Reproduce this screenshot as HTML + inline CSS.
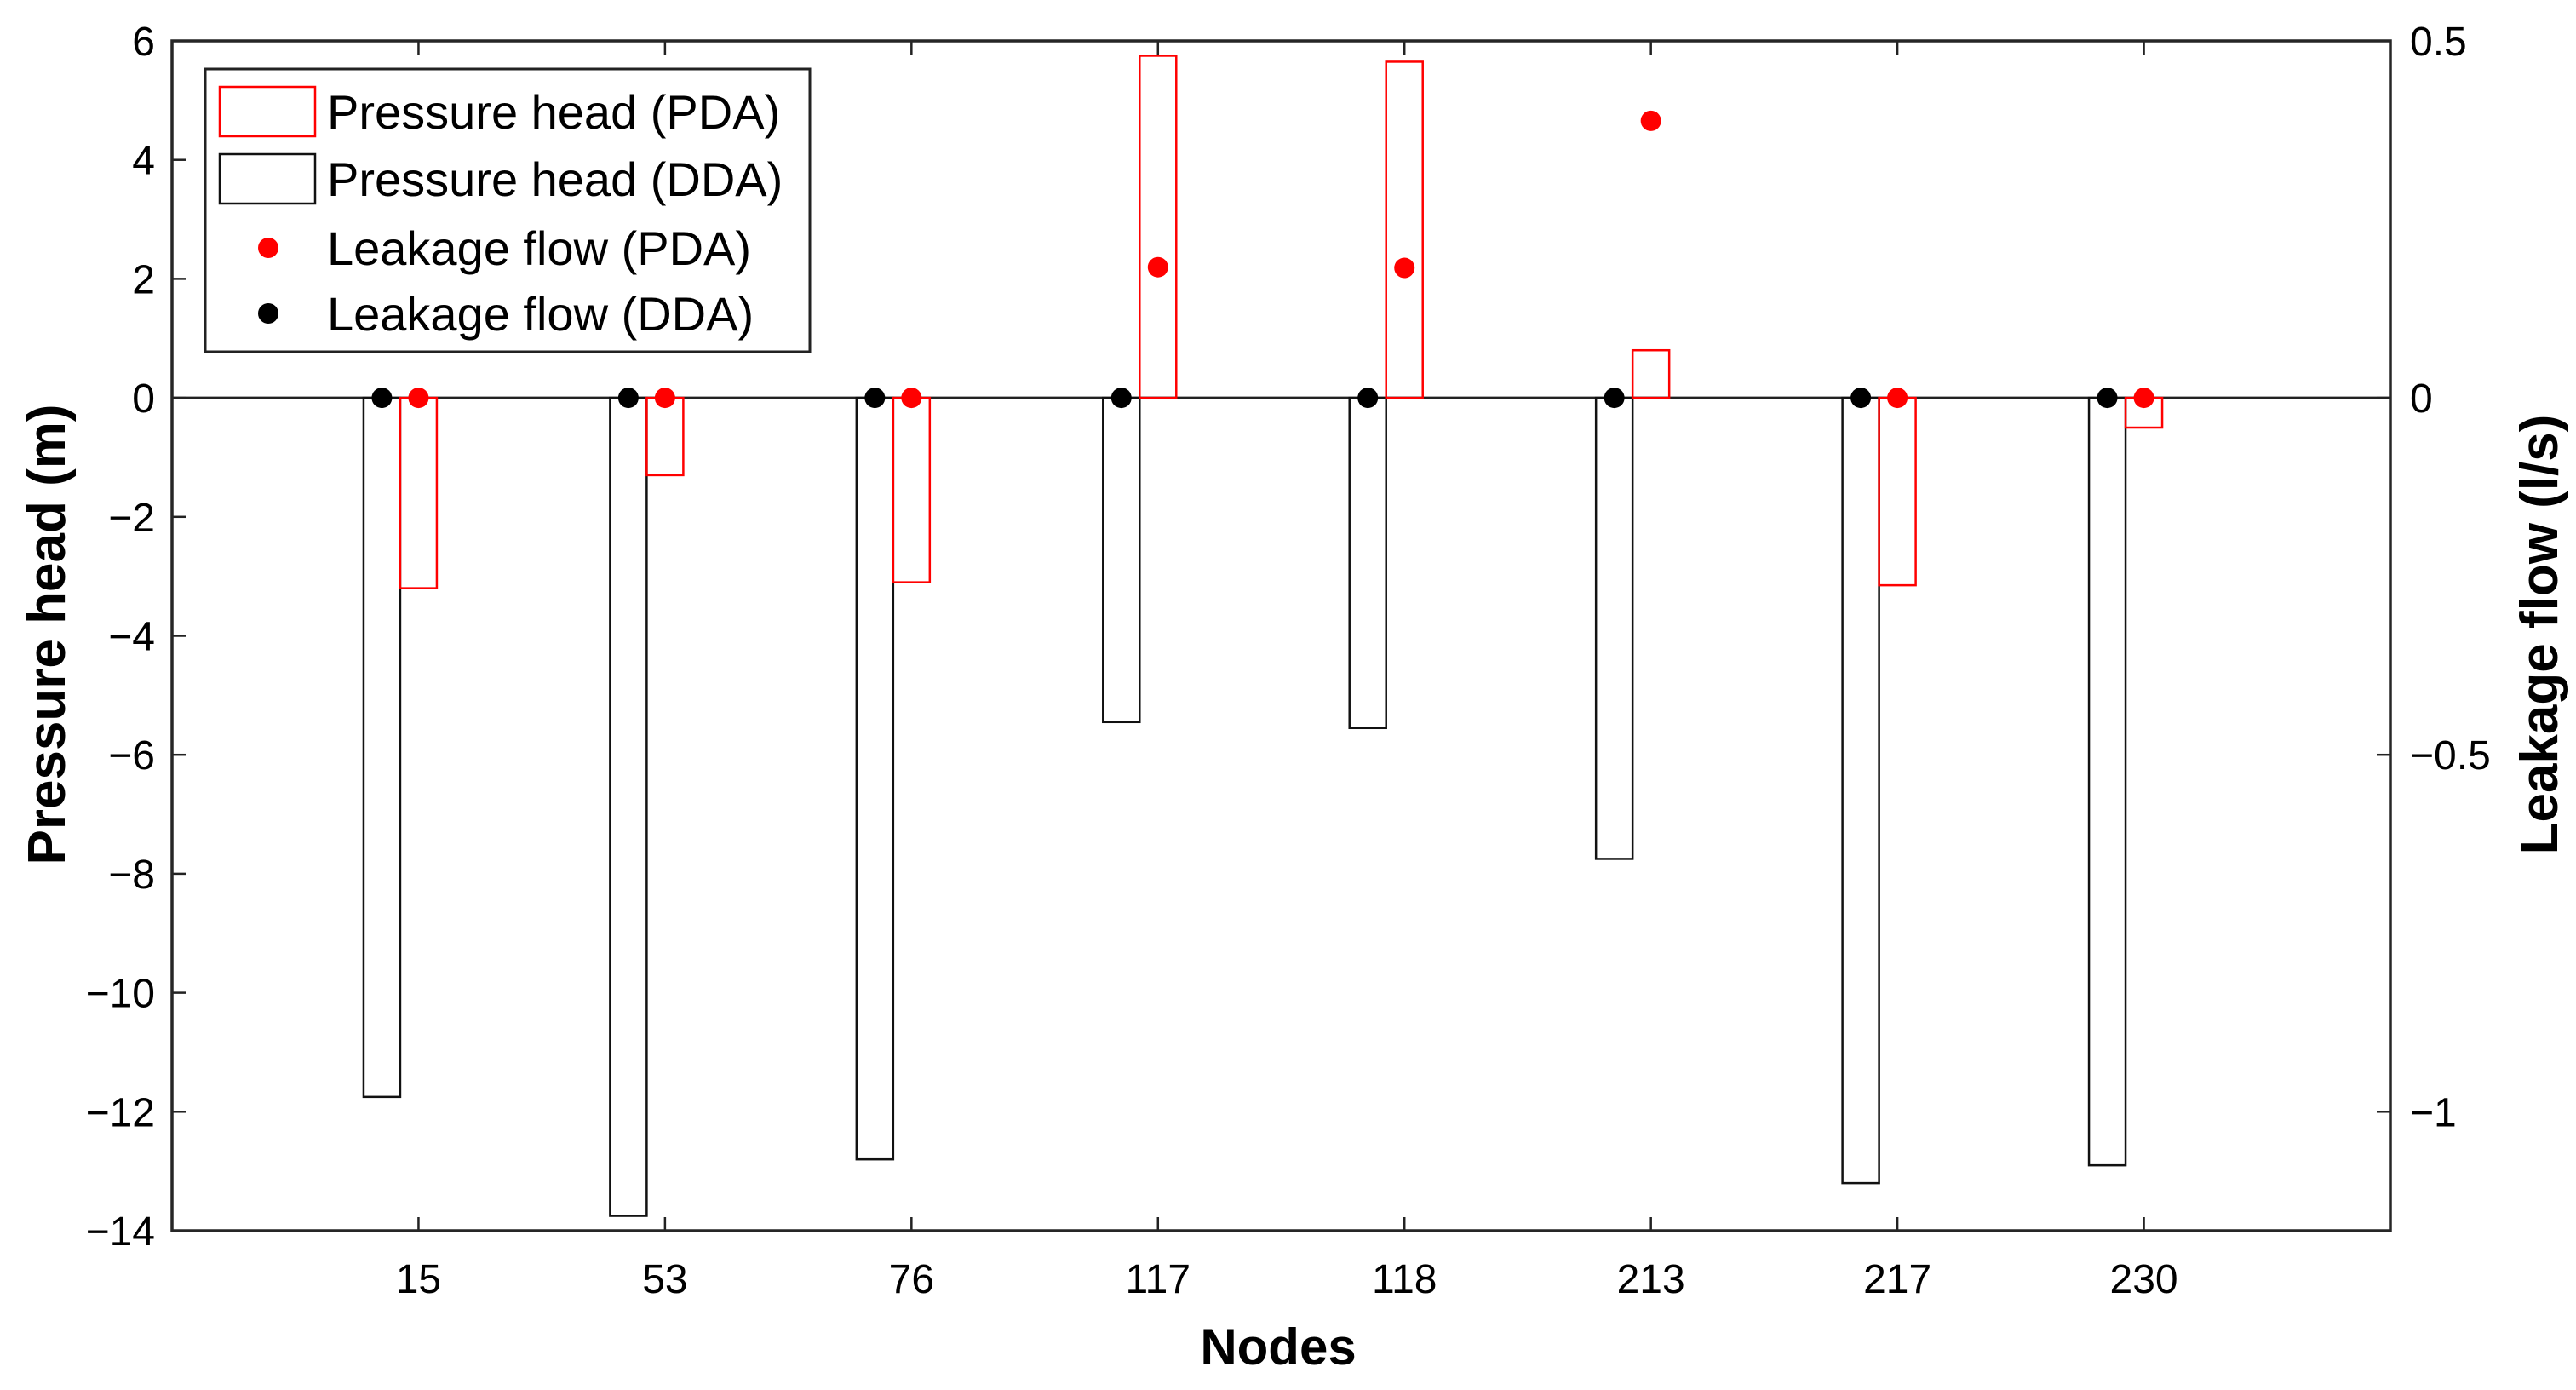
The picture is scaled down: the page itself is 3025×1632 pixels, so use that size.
<!DOCTYPE html>
<html><head><meta charset="utf-8"><style>
html,body{margin:0;padding:0;background:#fff;}
svg{display:block;font-family:"Liberation Sans",Arial,sans-serif;}
</style></head><body>
<svg id="chart" width="3025" height="1632" viewBox="0 0 3025 1632" xmlns="http://www.w3.org/2000/svg"></svg>
<script>
const nodes = ["15","53","76","117","118","213","217","230"];
const pressurePDA = [-3.2,-1.3,-3.1,5.75,5.65,0.8,-3.15,-0.5];
const pressureDDA = [-11.75,-13.75,-12.8,-5.45,-5.55,-7.75,-13.2,-12.9];
const leakPDA = [0,0,0,0.183,0.182,0.388,0,0];
const leakDDA = [0,0,0,0,0,0,0,0];
const leftTicks = [6,4,2,0,-2,-4,-6,-8,-10,-12,-14];
const rightTicks = [0.5,0,-0.5,-1];

const L=202,R=2807,T=48,B=1445;
const yL=v=>T+(6-v)/20*(B-T);
const yR=v=>T+(0.5-v)/(0.5+7/6)*(B-T);
const xC=i=>L+(i+1)*(R-L)/9;
const bw=43;
const NS="http://www.w3.org/2000/svg";
const svg=document.getElementById('chart');
function mk(tag,attrs,parent){const e=document.createElementNS(NS,tag);for(const k in attrs)e.setAttribute(k,attrs[k]);(parent||svg).appendChild(e);return e;}

let zl=mk('line',{x1:L,x2:R,y1:yL(0),y2:yL(0),stroke:'#222','stroke-width':3});



nodes.forEach((n,i)=>{
  const cx=xC(i);
  const d=pressureDDA[i];
  let r1=mk('rect',{x:cx-bw*1.5,y:Math.min(yL(0),yL(d)),width:bw,height:Math.abs(yL(d)-yL(0)),fill:'none',stroke:'#111','stroke-width':2.5});
  
  
  const p=pressurePDA[i];
  let r2=mk('rect',{x:cx-bw/2,y:Math.min(yL(0),yL(p)),width:bw,height:Math.abs(yL(p)-yL(0)),fill:'none',stroke:'#ff0000','stroke-width':2.5});
  
  
  let c1=mk('circle',{cx:cx-bw,cy:yR(leakDDA[i]),r:12,fill:'#000'});
  
  
  let c2=mk('circle',{cx:cx,cy:yR(leakPDA[i]),r:12,fill:'#ff0000'});
  
  
  mk('line',{x1:cx,x2:cx,y1:B,y2:B-16,stroke:'#222','stroke-width':2.5});
  mk('line',{x1:cx,x2:cx,y1:T,y2:T+16,stroke:'#222','stroke-width':2.5});
  let t=mk('text',{x:cx,y:1518,'text-anchor':'middle','font-size':48,fill:'#000'});
  t.textContent=n;
  
  
});

leftTicks.forEach(v=>{
  const y=yL(v);
  mk('line',{x1:L,x2:L+16,y1:y,y2:y,stroke:'#222','stroke-width':2.5});
  let t=mk('text',{x:182,y:y+17,'text-anchor':'end','font-size':48,fill:'#000'});
  t.textContent=v<0?'\u2212'+(-v):String(v);
  
  
});
rightTicks.forEach(v=>{
  const y=yR(v);
  mk('line',{x1:R,x2:R-16,y1:y,y2:y,stroke:'#222','stroke-width':2.5});
  let t=mk('text',{x:2830,y:y+17,'text-anchor':'start','font-size':48,fill:'#000'});
  t.textContent=v<0?'\u2212'+(-v):String(v);
  
  
});

let fr=mk('rect',{x:L,y:T,width:R-L,height:B-T,fill:'none',stroke:'#262626','stroke-width':3.5});



const lg=mk('g',{});


mk('rect',{x:241,y:81,width:710,height:332,fill:'#fff',stroke:'#222','stroke-width':3},lg);
const entries=[['Pressure head (PDA)','rect','#ff0000'],['Pressure head (DDA)','rect','#111'],['Leakage flow (PDA)','dot','#ff0000'],['Leakage flow (DDA)','dot','#000']];
const rows=[131,210,291,368];
entries.forEach((e,k)=>{
  const g=mk('g',{},lg);
  
  
  const cy=rows[k];
  if(e[1]==='rect') mk('rect',{x:258,y:cy-29,width:112,height:58,fill:'none',stroke:e[2],'stroke-width':2.5},g);
  else mk('circle',{cx:315,cy:cy,r:12,fill:e[2]},g);
  const t=mk('text',{x:384,y:cy+20,'font-size':56,fill:'#000'},g);
  t.textContent=e[0];
});

let xt=mk('text',{x:1501,y:1602,'text-anchor':'middle','font-size':60,'font-weight':'bold',fill:'#000'});
xt.textContent='Nodes';


let yt=mk('text',{x:0,y:0,'text-anchor':'middle','font-size':62,'font-weight':'bold',fill:'#000',transform:'translate(76,745) rotate(-90)'});
yt.textContent='Pressure head (m)';


let yt2=mk('text',{x:0,y:0,'text-anchor':'middle','font-size':62,'font-weight':'bold',fill:'#000',transform:'translate(3003,745) rotate(-90)'});
yt2.textContent='Leakage flow (l/s)';


</script>
</body></html>
